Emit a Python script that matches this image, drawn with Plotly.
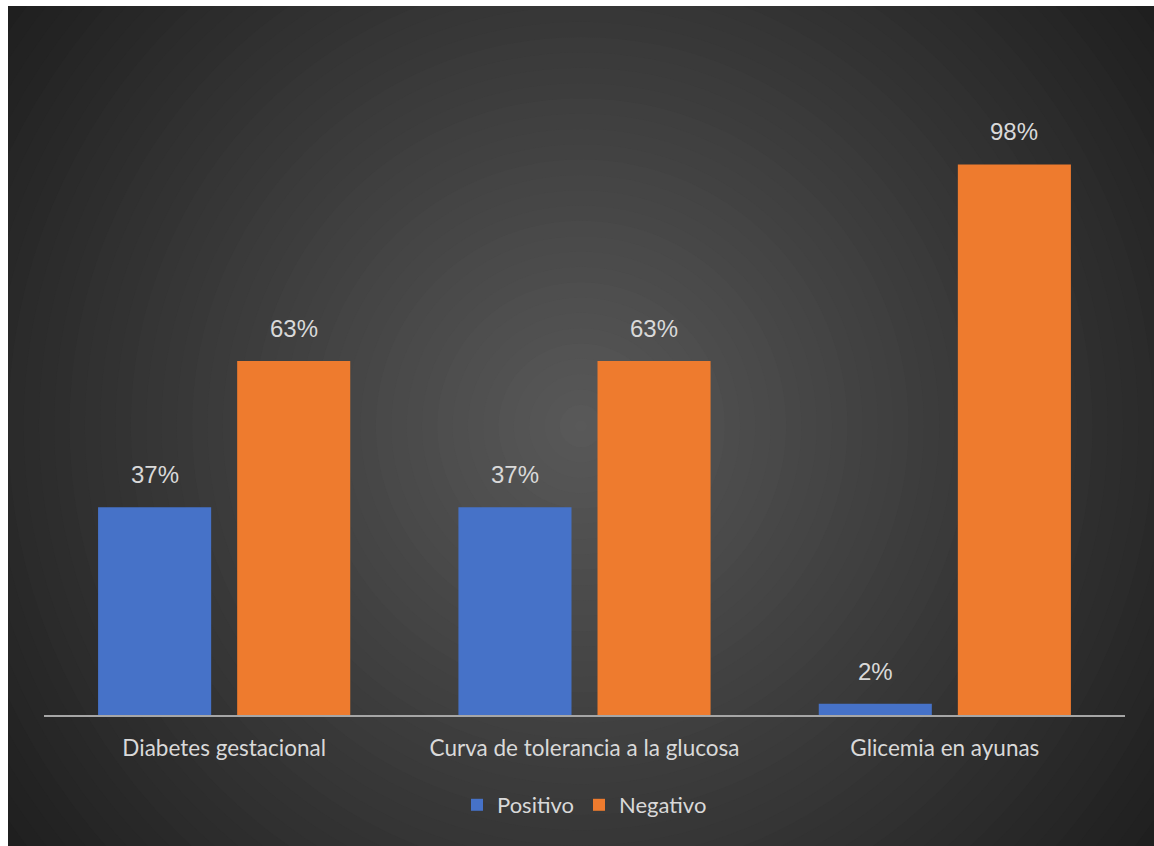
import plotly.graph_objects as go

categories = ["Diabetes gestacional", "Curva de tolerancia a la glucosa", "Glicemia en ayunas"]
positivo = [0.37, 0.37, 0.02]
negativo = [0.63, 0.63, 0.98]
series_names = ["Positivo", "Negativo"]

W, H = 1154, 846
L, R, T, B = 44, 29, 97, 131
PW, PH = W - L - R, H - T - B

def px_to_paper_x(px):
    return (px - L) / PW

def px_to_paper_y(py):
    return (H - B - py) / PH

BLUE = "#4672c8"
ORANGE = "#ee7b2e"
LABEL = "#d9d9d9"
FONT = "Lato, Carlito, Calibri, sans-serif"

fig = go.Figure()
fig.add_trace(go.Bar(x=categories, y=positivo, name=series_names[0],
                     marker=dict(color=BLUE, line=dict(width=0)),
                     hovertemplate="%{x}<br>%{y:.0%}<extra>Positivo</extra>"))
fig.add_trace(go.Bar(x=categories, y=negativo, name=series_names[1],
                     marker=dict(color=ORANGE, line=dict(width=0)),
                     hovertemplate="%{x}<br>%{y:.0%}<extra>Negativo</extra>"))

# data labels derived from the data arrays
slot_px = 139
for vals, sign in ((positivo, -1), (negativo, 1)):
    for c, v in zip(categories, vals):
        fig.add_annotation(x=c, y=v, xref="x", yref="y", text=f"{round(v*100)}%",
                           showarrow=False, yanchor="bottom", xshift=sign * slot_px / 2,
                           yshift=17, font=dict(family="Liberation Sans, Arial", size=24, color=LABEL))

# radial gradient background
shapes = []
cx_px, cy_px = 581, 426
cx, cy = px_to_paper_x(cx_px), px_to_paper_y(cy_px)
N = 48
rmax = 720
c_out, c_in = 0x1e, 0x59
for i in range(N):
    f = i / (N - 1)
    r = rmax * (1 - f) + 6
    g = int(round(c_out + (c_in - c_out) * f))
    col = f"rgb({g},{g},{g})"
    shapes.append(dict(type="circle", xref="paper", yref="paper", xsizemode="pixel", ysizemode="pixel",
                       xanchor=cx, yanchor=cy, x0=-r, x1=r, y0=-r, y1=r,
                       fillcolor=col, line=dict(width=0), layer="below"))
# white frame (left and top)
shapes.append(dict(type="rect", xref="paper", yref="paper", x0=px_to_paper_x(-50), x1=px_to_paper_x(8),
                   y0=px_to_paper_y(900), y1=px_to_paper_y(-50), fillcolor="white", line=dict(width=0), layer="below"))
shapes.append(dict(type="rect", xref="paper", yref="paper", x0=px_to_paper_x(-50), x1=px_to_paper_x(1200),
                   y0=px_to_paper_y(6), y1=px_to_paper_y(-50), fillcolor="white", line=dict(width=0), layer="below"))

fig.update_layout(
    width=W, height=H,
    margin=dict(l=L, r=R, t=T, b=B, pad=0),
    paper_bgcolor="white",
    plot_bgcolor="rgba(0,0,0,0)",
    barmode="group",
    bargap=0.228,
    bargroupgap=0.187,
    shapes=shapes,
    showlegend=True,
    legend=dict(orientation="h", x=0.5, xanchor="center", y=px_to_paper_y(805), yanchor="middle",
                font=dict(family=FONT, size=22, color=LABEL),
                bgcolor="rgba(0,0,0,0)", itemwidth=30, traceorder="normal"),
    xaxis=dict(showline=True, linecolor="#a6a6a6", linewidth=2, ticks="", showgrid=False,
               zeroline=False, ticklabelstandoff=12,
               tickfont=dict(family=FONT, size=22.5, color=LABEL)),
    yaxis=dict(range=[0, 1.1], visible=False, showgrid=False, zeroline=False),
)

fig.write_html("out.html")
